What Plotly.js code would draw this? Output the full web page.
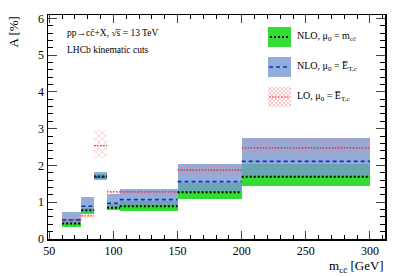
<!DOCTYPE html>
<html><head><meta charset="utf-8">
<script src="https://cdn.plot.ly/plotly-3.0.1.min.js"></script>
<style>html,body{margin:0;padding:0;background:#fff}#c{width:407px;height:277px}</style>
</head><body><div id="c"></div>
<script>
// bin edges [GeV]
var binLo = [60, 75, 85, 95, 105, 150, 200];
var binHi = [75, 85, 95, 105, 150, 200, 300];
// NLO, mu0 = m_cc
var nloM_c  = [0.42, 0.78, 1.70, 0.85, 0.89, 1.27, 1.69];
var nloM_lo = [0.33, 0.68, 1.62, 0.79, 0.77, 1.10, 1.45];
var nloM_hi = [0.50, 0.85, 1.76, 0.94, 1.02, 1.51, 2.04];
// NLO, mu0 = E_T,c
var nloE_c  = [0.52, 0.89, 1.68, 0.97, 1.07, 1.56, 2.11];
var nloE_lo = [0.42, 0.76, 1.60, 0.85, 0.89, 1.27, 1.70];
var nloE_hi = [0.74, 1.15, 1.82, 1.23, 1.37, 2.05, 2.74];
// LO, mu0 = E_T,c
var lo_c  = [0.52, 0.63, 2.54, 1.28, 1.28, 1.87, 2.48];
var lo_lo = [0.46, 0.55, 2.20, 1.23, 1.20, 1.75, 2.27];
var lo_hi = [0.58, 0.70, 2.97, 1.37, 1.37, 2.05, 2.74];

var FONT = '"Liberation Serif","Times New Roman",serif';
var centers = binLo.map(function(l,i){return (l+binHi[i])/2;});
var widths = binLo.map(function(l,i){return binHi[i]-l;});

function band(lo, hi, marker){
  return {type:'bar', x:centers, width:widths, base:lo,
    y:hi.map(function(h,i){return h-lo[i];}), marker:marker,
    hoverinfo:'skip', showlegend:false};
}
function segs(c, line){
  var xs=[], ys=[];
  for(var i=0;i<binLo.length;i++){xs.push(binLo[i],binHi[i],null);ys.push(c[i],c[i],null);}
  return {type:'scatter', mode:'lines', x:xs, y:ys, line:line, hoverinfo:'skip', showlegend:false};
}
var greenCol = 'rgb(51,221,51)';
var blueCol = 'rgba(120,152,210,0.8)';
var hatchCol = 'rgba(255,100,120,0.7)';
var hatch = {color:'rgba(0,0,0,0)', line:{width:0},
  pattern:{shape:'x', fgcolor:hatchCol, bgcolor:'rgba(0,0,0,0)', size:4.5, solidity:0.18}};
var blackDot = {color:'#000', width:2, dash:'2px,2px'};
var blueDash = {color:'#1030c0', width:1.6, dash:'4px,3px'};
var redDot = {color:'#e02020', width:1.2, dash:'1.5px,1.5px'};

var data = [
  band(nloM_lo, nloM_hi, {color:greenCol, line:{width:0}}),
  band(nloE_lo, nloE_hi, {color:blueCol, line:{width:0}}),
  band(lo_lo, lo_hi, hatch),
  segs(nloM_c, blackDot),
  segs(nloE_c, blueDash),
  segs(lo_c, redDot)
];

// pixel -> paper helpers (plot area: x 48..385, y 15..239)
function px(x){return (x-48)/337;}
function py(y){return (239-y)/224;}

var shapes = [];
var annotations = [];
// legend boxes
var boxes = [[27,47],[57,77],[87,107]];
var bx0=268, bx1=291;
shapes.push({type:'rect', xref:'paper', yref:'paper', x0:px(bx0), x1:px(bx1), y0:py(boxes[0][1]), y1:py(boxes[0][0]), fillcolor:greenCol, line:{width:0}});
shapes.push({type:'line', xref:'paper', yref:'paper', x0:px(bx0+2), x1:px(bx1-2), y0:py(37), y1:py(37), line:blackDot});
shapes.push({type:'rect', xref:'paper', yref:'paper', x0:px(bx0), x1:px(bx1), y0:py(boxes[1][1]), y1:py(boxes[1][0]), fillcolor:blueCol, line:{width:0}});
shapes.push({type:'line', xref:'paper', yref:'paper', x0:px(bx0+1), x1:px(bx1-1), y0:py(67), y1:py(67), line:blueDash});
// hatch box
for(var k=-20;k<=23;k+=4){
  var x0=bx0+k,y0=boxes[2][0],x1=bx0+k+20,y1=boxes[2][1];
  if(x0<bx0){y0+= (bx0-x0); x0=bx0;}
  if(x1>bx1){y1-= (x1-bx1); x1=bx1;}
  if(x1>x0) shapes.push({type:'line', xref:'paper', yref:'paper', x0:px(x0), x1:px(x1), y0:py(y0), y1:py(y1), line:{color:'rgba(255,110,110,0.5)', width:0.8}});
  var a0=bx0+k,b0=boxes[2][1],a1=bx0+k+20,b1=boxes[2][0];
  if(a0<bx0){b0-= (bx0-a0); a0=bx0;}
  if(a1>bx1){b1+= (a1-bx1); a1=bx1;}
  if(a1>a0) shapes.push({type:'line', xref:'paper', yref:'paper', x0:px(a0), x1:px(a1), y0:py(b0), y1:py(b1), line:{color:'rgba(255,110,110,0.5)', width:0.8}});
}
shapes.push({type:'line', xref:'paper', yref:'paper', x0:px(bx0+1), x1:px(bx1-1), y0:py(97), y1:py(97), line:redDot});

var legTexts = ['NLO, \u03bc<sub>0</sub> = m<sub>cc\u0304</sub>',
                'NLO, \u03bc<sub>0</sub> = E\u0305<sub>T,c</sub>',
                'LO, \u03bc<sub>0</sub> = E\u0305<sub>T,c</sub>'];
var legY = [36, 66, 96];
for(var j=0;j<3;j++){
  annotations.push({xref:'paper', yref:'paper', x:px(295), y:py(legY[j]), xanchor:'left', yanchor:'middle',
    text:legTexts[j], showarrow:false, font:{family:FONT, size:10, color:'#000'}});
}
annotations.push({xref:'paper', yref:'paper', x:px(65), y:py(33), xanchor:'left', yanchor:'middle',
  text:'pp\u2192cc\u0304+X, \u221as\u0305 = 13 TeV', showarrow:false, font:{family:FONT, size:9.5, color:'#000'}});
annotations.push({xref:'paper', yref:'paper', x:px(65), y:py(50), xanchor:'left', yanchor:'middle',
  text:'LHCb kinematic cuts', showarrow:false, font:{family:FONT, size:9.5, color:'#000'}});
annotations.push({xref:'paper', yref:'paper', x:px(13), y:py(15), xanchor:'center', yanchor:'top', textangle:-90,
  text:'A [%]', showarrow:false, font:{family:FONT, size:13, color:'#000'}});
annotations.push({xref:'paper', yref:'paper', x:px(386), y:py(266), xanchor:'right', yanchor:'middle',
  text:'m<sub>cc\u0304</sub> [GeV]', showarrow:false, font:{family:FONT, size:13, color:'#000'}});

var layout = {
  width:407, height:277,
  margin:{l:48, r:22, t:15, b:38},
  paper_bgcolor:'#fff', plot_bgcolor:'#fff',
  barmode:'overlay', bargap:0,
  showlegend:false,
  font:{family:FONT, color:'#000'},
  xaxis:{range:[49, 311.7], tickvals:[50,100,150,200,250,300], ticks:'inside', ticklen:8, tickwidth:1,
    showline:true, linecolor:'#000', linewidth:1.5, mirror:'allticks', showgrid:false, zeroline:false,
    tickfont:{family:FONT, size:12, color:'#000'},
    minor:{dtick:10, tick0:0, ticks:'inside', ticklen:4, tickwidth:1, tickcolor:'#000', showgrid:false}},
  yaxis:{range:[0, 6.09], dtick:1, ticks:'inside', ticklen:9, tickwidth:1,
    showline:true, linecolor:'#000', linewidth:1.5, mirror:'allticks', showgrid:false, zeroline:false,
    tickfont:{family:FONT, size:12, color:'#000'},
    minor:{dtick:0.2, ticks:'inside', ticklen:5, tickwidth:1, tickcolor:'#000', showgrid:false}},
  shapes:shapes, annotations:annotations
};
Plotly.newPlot('c', data, layout, {displayModeBar:false, staticPlot:true});
</script></body></html>
